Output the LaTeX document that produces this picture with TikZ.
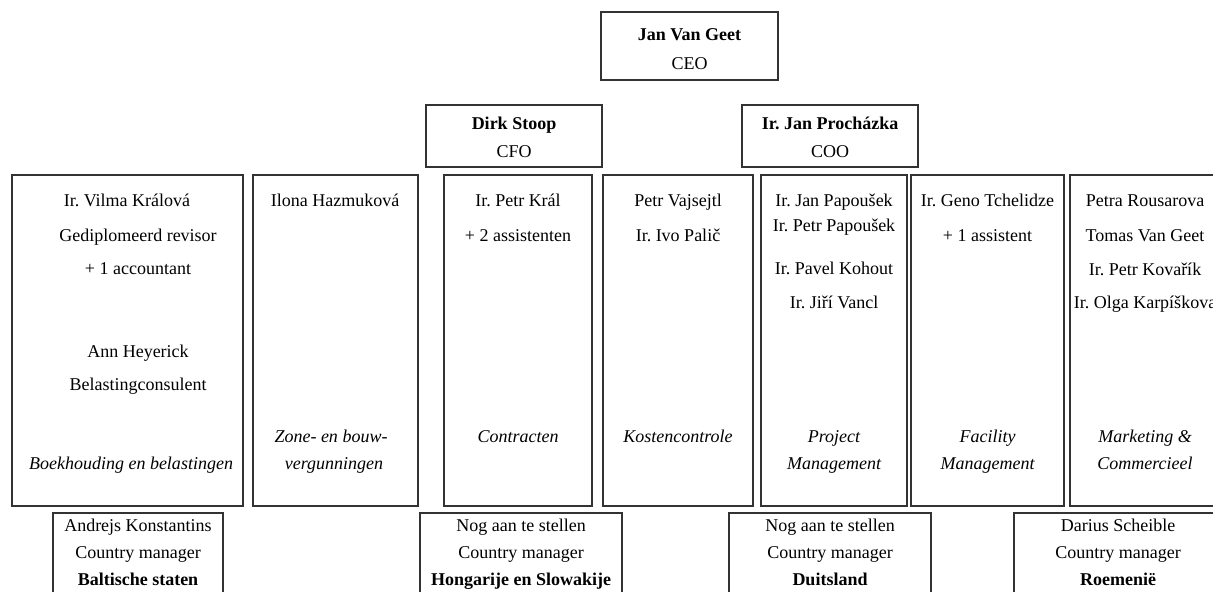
\documentclass[tikz,border=0pt]{standalone}
\usepackage{fontspec}
\setmainfont{Liberation Serif}
\frenchspacing
\begin{document}
\begin{tikzpicture}[x=0.5pt,y=-0.5pt,
  box/.style={draw=black!80,line width=0.6pt,inner sep=0pt,outer sep=0pt},
  txt/.style={anchor=base,inner sep=0pt,font=\fontsize{9}{11}\selectfont},
  bftxt/.style={txt,font=\fontsize{9}{11}\selectfont\bfseries},
  ittxt/.style={txt,font=\fontsize{9}{11}\selectfont\itshape}]
\fill[white] (0,0) rectangle (1213,592);
\useasboundingbox (0,0) rectangle (1213,592);
% top boxes
\node[box,minimum width=88.5pt,minimum height=34pt] (ceo) at (689.5,46) {};
\node[box,minimum width=88pt,minimum height=31pt] (cfo) at (514,136) {};
\node[box,minimum width=88pt,minimum height=31pt] (coo) at (830,136) {};
% row boxes
\node[box,minimum width=115.5pt,minimum height=165.5pt] (r1) at (127.5,340.5) {};
\node[box,minimum width=82.5pt,minimum height=165.5pt] (r2) at (335.5,340.5) {};
\node[box,minimum width=74pt,minimum height=165.5pt] (r3) at (518,340.5) {};
\node[box,minimum width=75pt,minimum height=165.5pt] (r4) at (678,340.5) {};
\node[box,minimum width=73pt,minimum height=165.5pt] (r5) at (834,340.5) {};
\node[box,minimum width=76.5pt,minimum height=165.5pt] (r6) at (987.5,340.5) {};
\node[box,minimum width=75pt,minimum height=165.5pt] (r7) at (1145,340.5) {};
% country boxes
\node[box,minimum width=85pt,minimum height=43.5pt] (ca) at (138,556.5) {};
\node[box,minimum width=101pt,minimum height=43.5pt] (cb) at (521,556.5) {};
\node[box,minimum width=101pt,minimum height=43.5pt] (cc) at (830,556.5) {};
\node[box,minimum width=104pt,minimum height=43.5pt] (cd) at (1118,556.5) {};
% top texts
\node[bftxt] (ceoa) at (689.5,41) {Jan Van Geet};
\node[txt] (ceob) at (689.5,70) {CEO};
\node[bftxt] (cfoa) at (514,130) {Dirk Stoop};
\node[txt] (cfob) at (514,158) {CFO};
\node[bftxt] (cooa) at (830,130) {Ir. Jan Procházka};
\node[txt] (coob) at (830,158) {COO};
% box 1
\node[txt] (r1a) at (127,207) {Ir. Vilma Králová};
\node[txt] (r1b) at (138,242) {Gediplomeerd revisor};
\node[txt] (r1c) at (138,275) {+ 1 accountant};
\node[txt] (r1d) at (138,358) {Ann Heyerick};
\node[txt] (r1e) at (138,391) {Belastingconsulent};
\node[ittxt] (r1f) at (131,469) {Boekhouding en belastingen};
% box 2
\node[txt] (r2a) at (335,207) {Ilona Hazmuková};
\node[ittxt] (r2b) at (331,442) {Zone- en bouw-};
\node[ittxt] (r2c) at (334,469) {vergunningen};
% box 3
\node[txt] (r3a) at (518,207) {Ir. Petr Král};
\node[txt] (r3b) at (518,242) {+ 2 assistenten};
\node[ittxt] (r3c) at (518,442) {Contracten};
% box 4
\node[txt] (r4a) at (678,207) {Petr Vajsejtl};
\node[txt] (r4b) at (678,242) {Ir. Ivo Palič};
\node[ittxt] (r4c) at (678,442) {Kostencontrole};
% box 5
\node[txt] (r5a) at (834,207) {Ir. Jan Papoušek};
\node[txt] (r5b) at (834,232) {Ir. Petr Papoušek};
\node[txt] (r5c) at (834,275) {Ir. Pavel Kohout};
\node[txt] (r5d) at (834,309) {Ir. Jiří Vancl};
\node[ittxt] (r5e) at (834,442) {Project};
\node[ittxt] (r5f) at (834,469) {Management};
% box 6
\node[txt] (r6a) at (987.5,207) {Ir. Geno Tchelidze};
\node[txt] (r6b) at (987.5,242) {+ 1 assistent};
\node[ittxt] (r6c) at (987.5,442) {Facility};
\node[ittxt] (r6d) at (987.5,469) {Management};
% box 7
\node[txt] (r7a) at (1145,207) {Petra Rousarova};
\node[txt] (r7b) at (1145,242) {Tomas Van Geet};
\node[txt] (r7c) at (1145,276) {Ir. Petr Kovařík};
\node[txt] (r7d) at (1145,309) {Ir. Olga Karpíškova};
\node[ittxt] (r7e) at (1145,442) {Marketing \&};
\node[ittxt] (r7f) at (1145,469) {Commercieel};
% country texts
\node[txt] (caa) at (138,531) {Andrejs Konstantins};
\node[txt] (cab) at (138,558) {Country manager};
\node[bftxt] (cac) at (138,585) {Baltische staten};
\node[txt] (cba) at (521,531) {Nog aan te stellen};
\node[txt] (cbb) at (521,558) {Country manager};
\node[bftxt] (cbc) at (521,585) {Hongarije en Slowakije};
\node[txt] (cca) at (830,531) {Nog aan te stellen};
\node[txt] (ccb) at (830,558) {Country manager};
\node[bftxt] (ccc) at (830,585) {Duitsland};
\node[txt] (cda) at (1118,531) {Darius Scheible};
\node[txt] (cdb) at (1118,558) {Country manager};
\node[bftxt] (cdc) at (1118,585) {Roemenië};
\end{tikzpicture}
\end{document}
